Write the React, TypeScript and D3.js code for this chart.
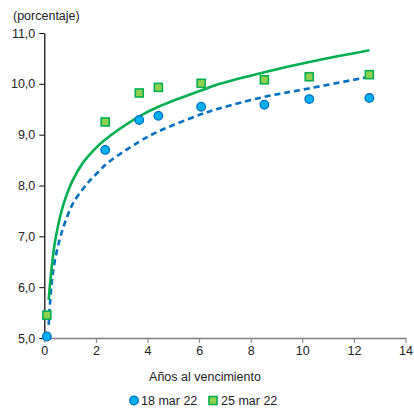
import React, { useEffect, useRef } from "react";
import * as d3 from "d3";

const pointsYears = [0.1, 2.36, 3.68, 4.42, 6.08, 8.53, 10.27, 12.6];
const mar18Values = [5.03, 8.7, 9.29, 9.37, 9.55, 9.59, 9.7, 9.72];
const mar25Values = [5.45, 9.25, 9.82, 9.93, 10.01, 10.08, 10.14, 10.18];

const curve25Years = [0.17, 0.22, 0.3, 0.4, 0.53, 0.66, 0.8, 1.1, 1.5, 1.89, 2.28, 3.68, 4.42, 6.08, 6.8, 8.53, 10.27, 12.6];
const curve25Values = [5.75, 6.05, 6.45, 6.85, 7.2, 7.48, 7.72, 8.1, 8.45, 8.68, 8.87, 9.36, 9.55, 9.87, 10.0, 10.23, 10.43, 10.66];

const curve18Years = [0.17, 0.23, 0.3, 0.4, 0.6, 0.72, 0.86, 1.11, 1.57, 1.77, 2.08, 2.47, 3.67, 4.41, 6.07, 6.81, 8.5, 10.26, 12.6];
const curve18Values = [5.26, 5.75, 6.14, 6.5, 6.95, 7.15, 7.35, 7.65, 7.98, 8.1, 8.26, 8.45, 8.86, 9.06, 9.4, 9.52, 9.74, 9.91, 10.14];

const xTicks = [0, 2, 4, 6, 8, 10, 12, 14];
const yTicks = [5, 6, 7, 8, 9, 10, 11];
const legendLabels = ["18 mar 22", "25 mar 22"];

const W = 414, H = 408;
const FONT = "'Liberation Sans', Arial, sans-serif";

export default function App() {
  const ref = useRef<SVGSVGElement>(null);
  useEffect(() => {
    const svg = d3.select(ref.current);
    svg.selectAll("*").remove();
    const x = d3.scaleLinear().domain([0, 14]).range([44.3, 405.5]);
    const y = d3.scaleLinear().domain([5, 11]).range([338, 33]);

    // y axis
    const gy = svg.append("g").attr("transform", `translate(${x(0)},0)`)
      .call(d3.axisLeft(y).tickValues(yTicks).tickSize(5).tickSizeOuter(0).tickFormat((d) => d3.format(".1f")(d as number).replace(".", ",")));
    gy.select(".domain").attr("stroke", "#000").attr("stroke-width", 1.2);
    gy.selectAll(".tick line").attr("stroke", "#000");
    gy.selectAll("text").attr("font-family", FONT).attr("font-size", 12.5).attr("fill", "#222").attr("x", -9);

    // x axis
    const gx = svg.append("g").attr("transform", `translate(0,${y(5)})`)
      .call(d3.axisBottom(x).tickValues(xTicks).tickSize(5).tickSizeOuter(0).tickFormat(d3.format("d") as any));
    gx.select(".domain").attr("stroke", "#808080").attr("stroke-width", 1.5);
    gx.selectAll(".tick line").attr("stroke", "#808080");
    gx.selectAll("text").attr("font-family", FONT).attr("font-size", 12.5).attr("fill", "#222").attr("y", 8);

    svg.append("text").attr("x", 13).attr("y", 20).attr("font-family", FONT).attr("font-size", 12.5).attr("fill", "#222").text("(porcentaje)");
    svg.append("text").attr("x", 205).attr("y", 381).attr("text-anchor", "middle").attr("font-family", FONT).attr("font-size", 12.5).attr("fill", "#222").text("Años al vencimiento");

    const line = d3.line<[number, number]>().x((d) => x(d[0])).y((d) => y(d[1])).curve(d3.curveCatmullRom.alpha(0.5));
    const c18 = curve18Years.map((v, i) => [v, curve18Values[i]] as [number, number]);
    const c25 = curve25Years.map((v, i) => [v, curve25Values[i]] as [number, number]);

    svg.append("path").attr("d", line(c18)).attr("fill", "none").attr("stroke", "#0070C0").attr("stroke-width", 2.6).attr("stroke-dasharray", "6,4");
    svg.append("path").attr("d", line(c25)).attr("fill", "none").attr("stroke", "#00B050").attr("stroke-width", 2.6);

    svg.append("g").selectAll("circle").data(pointsYears).join("circle")
      .attr("cx", (d) => x(d)).attr("cy", (_, i) => y(mar18Values[i])).attr("r", 4.3)
      .attr("fill", "#00B0F0").attr("stroke", "#0070C0").attr("stroke-width", 1.3);
    svg.append("g").selectAll("rect").data(pointsYears).join("rect")
      .attr("x", (d) => x(d) - 4).attr("y", (_, i) => y(mar25Values[i]) - 4).attr("width", 8).attr("height", 8)
      .attr("fill", "#92D050").attr("stroke", "#00B050").attr("stroke-width", 1.6);

    // legend
    const ly = 400.5;
    svg.append("circle").attr("cx", 134).attr("cy", ly).attr("r", 4.3).attr("fill", "#00B0F0").attr("stroke", "#0070C0").attr("stroke-width", 1.3);
    svg.append("text").attr("x", 141).attr("y", ly + 4.5).attr("font-family", FONT).attr("font-size", 12.5).attr("fill", "#222").text(legendLabels[0]);
    svg.append("rect").attr("x", 209).attr("y", ly - 4).attr("width", 8).attr("height", 8).attr("fill", "#92D050").attr("stroke", "#00B050").attr("stroke-width", 1.6);
    svg.append("text").attr("x", 221).attr("y", ly + 4.5).attr("font-family", FONT).attr("font-size", 12.5).attr("fill", "#222").text(legendLabels[1]);
  }, []);
  return <svg ref={ref} width={W} height={H} style={{ position: "absolute", left: 0, top: 0, background: "#fff" }} />;
}
